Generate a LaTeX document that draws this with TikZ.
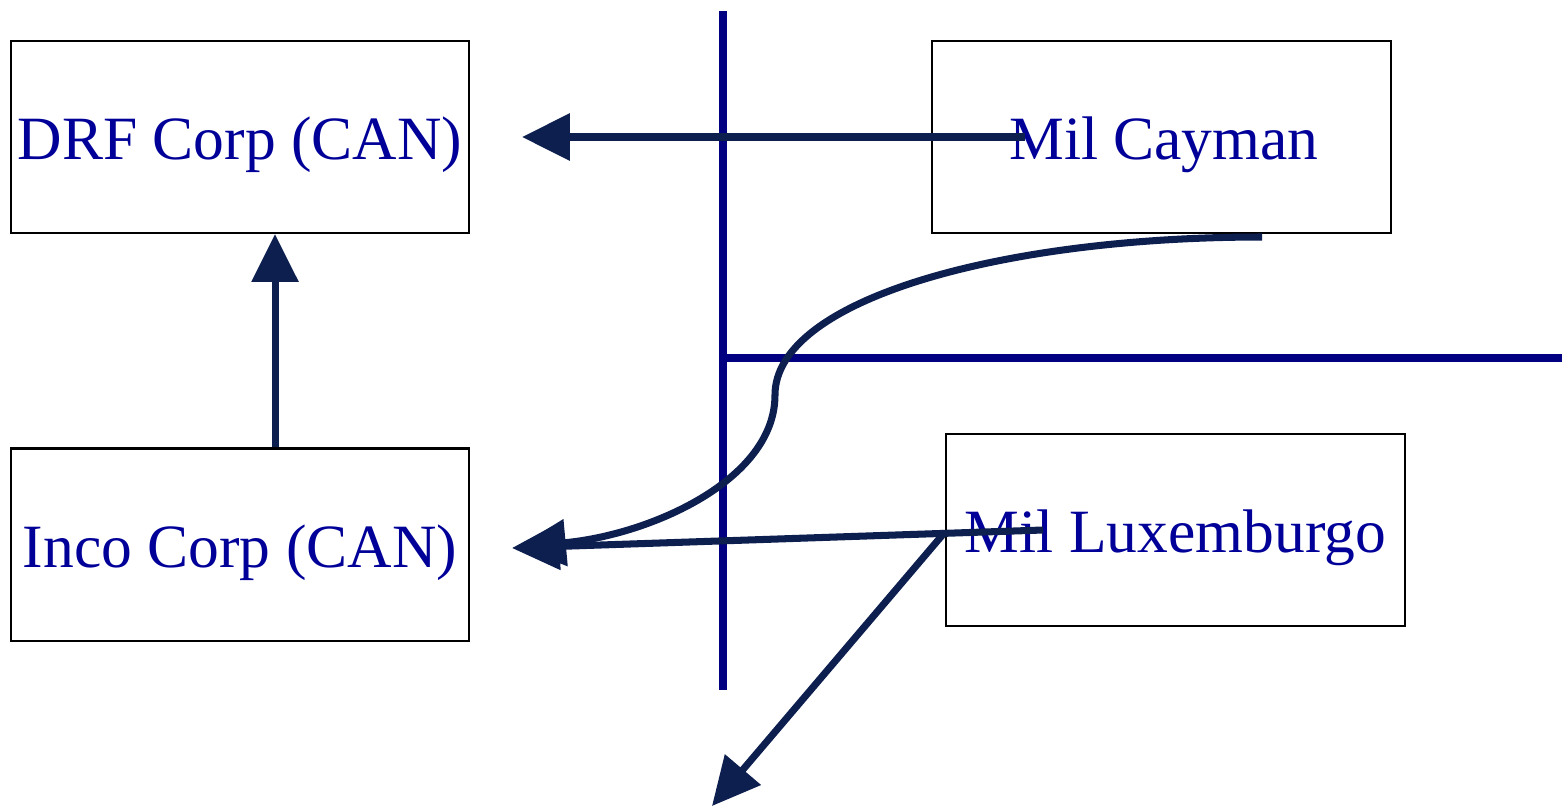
\documentclass[tikz,border=0pt]{standalone}
\usepackage{fontspec}
\setmainfont{Liberation Serif}
\usetikzlibrary{arrows.meta}
\definecolor{myarrow}{HTML}{0D1F4F}
\definecolor{myline}{HTML}{000080}
\definecolor{mytext}{HTML}{000099}
\tikzset{
  corpbox/.style={draw=black, line width=0.6pt, minimum width=4.58cm, minimum height=1.92cm,
    text=mytext, font=\fontsize{17.5}{21}\selectfont, inner sep=0,
    text height=16.6pt, text depth=3.8pt},
  flow/.style={draw=myarrow, line width=2pt, -{Triangle[length=13.6pt,width=13pt]}},
  border/.style={draw=myline, line width=2.3pt}
}
\begin{document}
\begin{tikzpicture}[x=0.01cm, y=-0.01cm]
\useasboundingbox (0,0) rectangle (1562,808);
\node[corpbox] (drf) at (240,137) {DRF Corp (CAN)};
\node[corpbox] (cayman) at (1161.5,137) {\hspace*{0.05cm}Mil Cayman};
\node[corpbox] (inco) at (240,544.5) {Inco Corp (CAN)};
\node[corpbox] (lux) at (1175.5,530) {Mil Luxemburgo};
\draw[border] (723,11) -- (723,690);
\draw[border] (723,358) -- (1562,358);
\coordinate (caystart) at (1025,137);
\coordinate (cayend) at (522,137);
\coordinate (curvestart) at (1262,237);
\coordinate (luxstart) at (1043,530);
\coordinate (luxcorner) at (945,532);
\coordinate (incoend) at (512,548);
\coordinate (downend) at (712,806);
\draw[flow] (caystart) -- (cayend);
\draw[flow] ([xshift=0.35cm]inco.north) -- ([xshift=0.35cm]drf.south);
\draw[flow] (curvestart) .. controls (1000,237) and (775,300) .. (775,395)
  .. controls (775,480) and (650,535) .. (518,547);
\draw[flow] (luxstart) -- (incoend);
\draw[flow] (luxcorner) -- (downend);
\end{tikzpicture}
\end{document}
